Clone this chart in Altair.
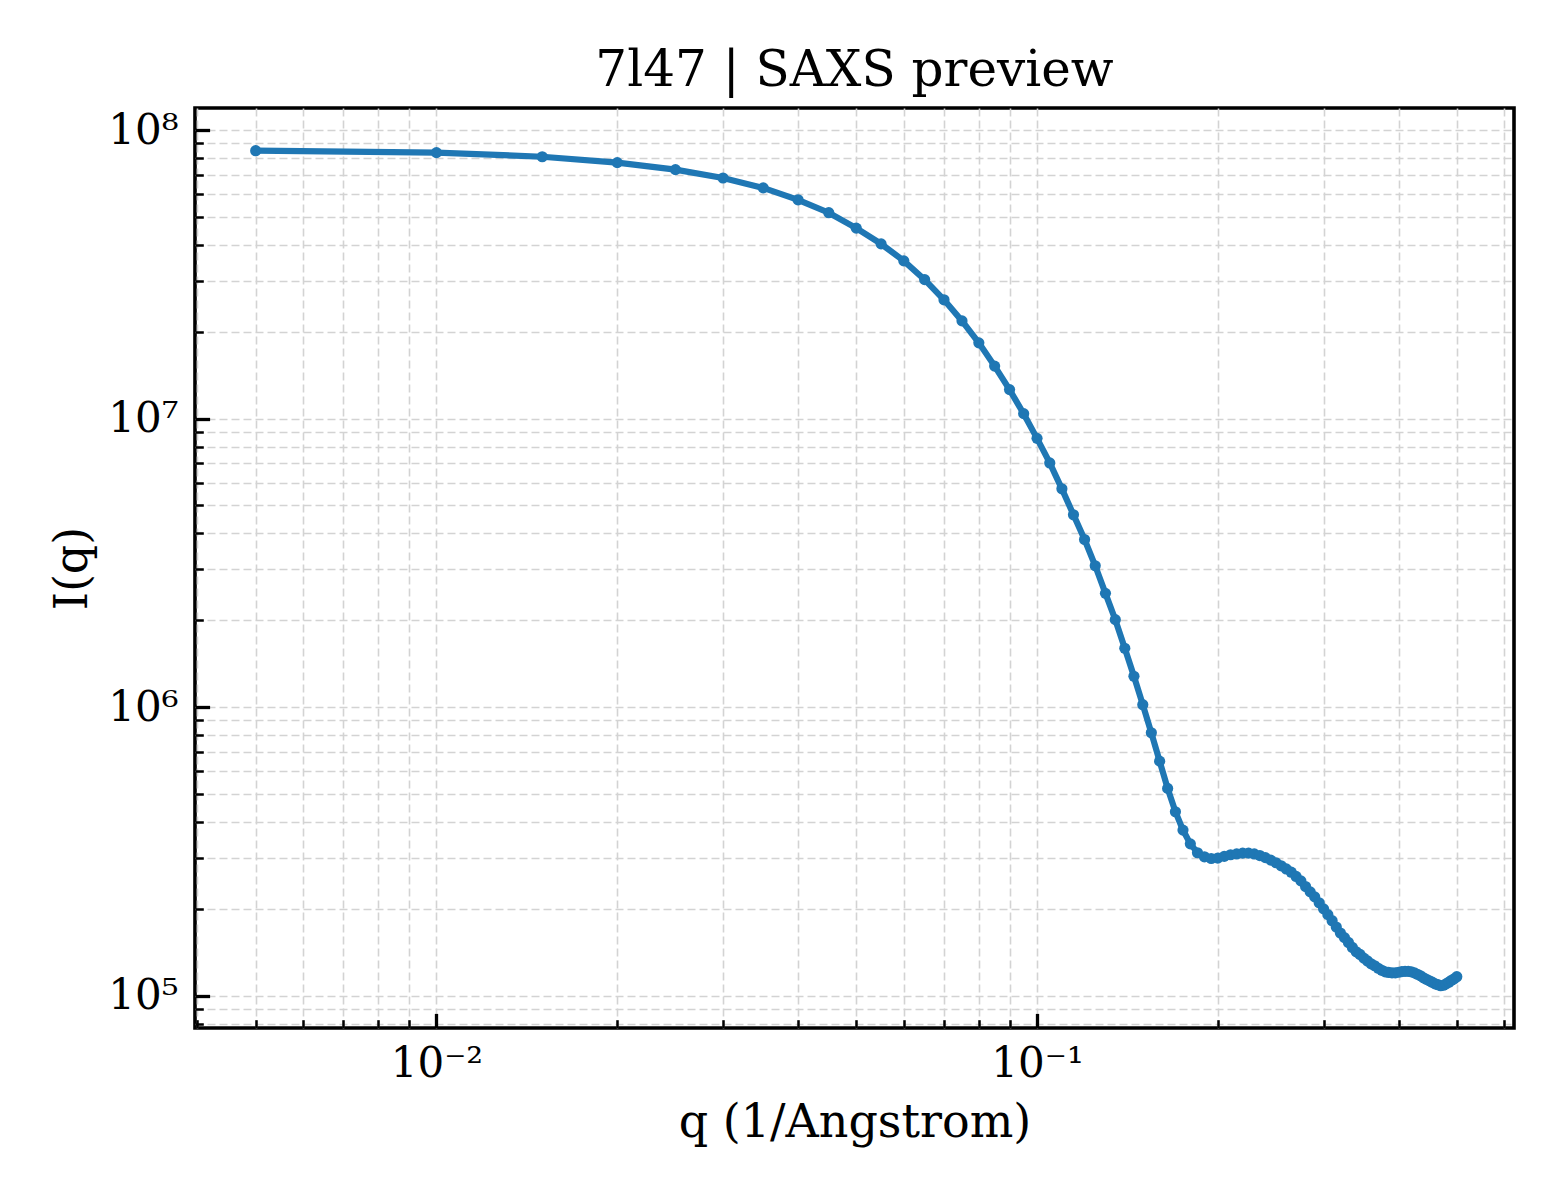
import altair as alt
import pandas as pd

# ---- data ----
q_values = [
    0.005, 0.010, 0.015, 0.020, 0.025, 0.030, 0.035, 0.040, 0.045, 0.050,
    0.055, 0.060, 0.065, 0.070, 0.075, 0.080, 0.085, 0.090, 0.095, 0.100,
    0.105, 0.110, 0.115, 0.120, 0.125, 0.130, 0.135, 0.140, 0.145, 0.150,
    0.155, 0.160, 0.165, 0.170, 0.175, 0.180, 0.185, 0.190, 0.195, 0.200,
    0.205, 0.210, 0.215, 0.220, 0.225, 0.230, 0.235, 0.240, 0.245, 0.250,
    0.255, 0.260, 0.265, 0.270, 0.275, 0.280, 0.285, 0.290, 0.295, 0.300,
    0.305, 0.310, 0.315, 0.320, 0.325, 0.330, 0.335, 0.340, 0.345, 0.350,
    0.355, 0.360, 0.365, 0.370, 0.375, 0.380, 0.385, 0.390, 0.395, 0.400,
    0.405, 0.410, 0.415, 0.420, 0.425, 0.430, 0.435, 0.440, 0.445, 0.450,
    0.455, 0.460, 0.465, 0.470, 0.475, 0.480, 0.485, 0.490, 0.495, 0.500,
]
intensity = [
    8.48e7, 8.35e7, 8.08e7, 7.71e7, 7.29e7, 6.82e7, 6.30e7, 5.73e7, 5.17e7, 4.57e7,
    4.03e7, 3.52e7, 3.03e7, 2.58e7, 2.18e7, 1.83e7, 1.52e7, 1.26e7, 1.04e7, 8.54e6,
    7.02e6, 5.71e6, 4.64e6, 3.81e6, 3.09e6, 2.48e6, 2.01e6, 1.60e6, 1.28e6, 1.02e6,
    8.15e5, 6.50e5, 5.23e5, 4.34e5, 3.75e5, 3.36e5, 3.13e5, 3.03e5, 2.99e5, 3.00e5,
    3.04e5, 3.08e5, 3.10e5, 3.12e5, 3.12e5, 3.10e5, 3.06e5, 3.01e5, 2.95e5, 2.89e5,
    2.82e5, 2.75e5, 2.68e5, 2.59e5, 2.50e5, 2.39e5, 2.29e5, 2.20e5, 2.10e5, 2.00e5,
    1.91e5, 1.82e5, 1.73e5, 1.65e5, 1.59e5, 1.53e5, 1.47e5, 1.42e5, 1.39e5, 1.35e5,
    1.32e5, 1.29e5, 1.27e5, 1.245e5, 1.225e5, 1.21e5, 1.204e5, 1.20e5, 1.20e5, 1.206e5,
    1.212e5, 1.215e5, 1.215e5, 1.21e5, 1.20e5, 1.187e5, 1.173e5, 1.154e5, 1.14e5, 1.127e5,
    1.114e5, 1.10e5, 1.092e5, 1.083e5, 1.087e5, 1.10e5, 1.114e5, 1.131e5, 1.145e5, 1.164e5,
]

x_ticks = [0.004, 0.005, 0.006, 0.007, 0.008, 0.009,
           0.01, 0.02, 0.03, 0.04, 0.05, 0.06, 0.07, 0.08, 0.09,
           0.1, 0.2, 0.3, 0.4, 0.5, 0.6]
x_major = [0.01, 0.1]
x_major_labels = ["10⁻²", "10⁻¹"]

y_ticks = [8e4, 9e4,
           1e5, 2e5, 3e5, 4e5, 5e5, 6e5, 7e5, 8e5, 9e5,
           1e6, 2e6, 3e6, 4e6, 5e6, 6e6, 7e6, 8e6, 9e6,
           1e7, 2e7, 3e7, 4e7, 5e7, 6e7, 7e7, 8e7, 9e7,
           1e8]
y_major = [1e5, 1e6, 1e7, 1e8]
y_major_labels = ["10⁵", "10⁶", "10⁷", "10⁸"]

x_domain = [0.003962, 0.6226]
y_domain = [7.73e4, 1.192e8]

df = pd.DataFrame({"q": q_values, "I": intensity})

FONT = "DejaVu Serif"
BLUE = "#1f77b4"
W, H = 1319, 920


def label_expr(values, labels):
    expr = "''"
    for v, t in reversed(list(zip(values, labels))):
        expr = f"datum.value == {v!r} ? '{t}' : ({expr})"
    return expr


def major_test(values):
    return " || ".join(f"datum.value == {v!r}" for v in values)


x_scale = alt.Scale(type="log", domain=x_domain, nice=False)
y_scale = alt.Scale(type="log", domain=y_domain, nice=False)

grid_common = dict(grid=True, gridColor="#d3d3d3", gridDash=[8, 4], gridWidth=1.6)

x_label_axis = alt.Axis(
    orient="bottom", values=x_ticks, labelExpr=label_expr(x_major, x_major_labels),
    ticks=False, domain=False, labelFont=FONT, labelFontSize=42, labelColor="black",
    labelPadding=15, labelOverlap=False, labelFlush=False, labelBound=False,
    title="q (1/Angstrom)", titleFont=FONT, titleFontSize=46, titleFontWeight="normal",
    titleColor="black", titleX=W / 2, titleY=108, titleAlign="center",
    titleBaseline="alphabetic", **grid_common,
)
y_label_axis = alt.Axis(
    orient="left", values=y_ticks, labelExpr=label_expr(y_major, y_major_labels),
    ticks=False, domain=False, labelFont=FONT, labelFontSize=42, labelColor="black",
    labelPadding=17, labelOverlap=False, labelFlush=False, labelBound=False,
    title="I(q)", titleFont=FONT, titleFontSize=46, titleFontWeight="normal",
    titleColor="black", titleX=-123, titleY=H / 2, titleAngle=270,
    titleAlign="center", titleBaseline="middle", **grid_common,
)
x_tick_axis = alt.Axis(
    orient="top", offset=-H, values=x_ticks, labels=False, domain=False, grid=False,
    ticks=True, tickColor="black",
    tickSize={"condition": {"test": major_test(x_major), "value": 14.6}, "value": 8.3},
    tickWidth={"condition": {"test": major_test(x_major), "value": 3.3}, "value": 2.5},
    title=None,
)
y_tick_axis = alt.Axis(
    orient="right", offset=-W, values=y_ticks, labels=False, domain=False, grid=False,
    ticks=True, tickColor="black",
    tickSize={"condition": {"test": major_test(y_major), "value": 14.6}, "value": 8.3},
    tickWidth={"condition": {"test": major_test(y_major), "value": 3.3}, "value": 2.5},
    title=None,
)

line = alt.Chart(df).mark_line(color=BLUE, strokeWidth=6.2).encode(
    x=alt.X("q:Q", scale=x_scale, axis=x_label_axis),
    y=alt.Y("I:Q", scale=y_scale, axis=y_label_axis),
    order="q:Q",
)
points = alt.Chart(df).mark_circle(color=BLUE, size=125, opacity=1).encode(
    x=alt.X("q:Q", scale=x_scale, axis=x_tick_axis),
    y=alt.Y("I:Q", scale=y_scale, axis=y_tick_axis),
)

chart = (
    alt.layer(line, points)
    .resolve_axis(x="independent", y="independent")
    .properties(
        width=W,
        height=H,
        title=alt.TitleParams(
            "7l47 | SAXS preview", font=FONT, fontSize=50, fontWeight="normal",
            color="black", anchor="middle", frame="group", baseline="alphabetic",
            offset=21, dy=49,
        ),
        padding={"left": 187, "top": 100, "right": 30, "bottom": 150},
        autosize=alt.AutoSizeParams(type="none"),
        background="white",
    )
    .configure_view(stroke="black", strokeWidth=3.6)
)

chart.save("out.html", embed_options={"renderer": "svg", "actions": False})
